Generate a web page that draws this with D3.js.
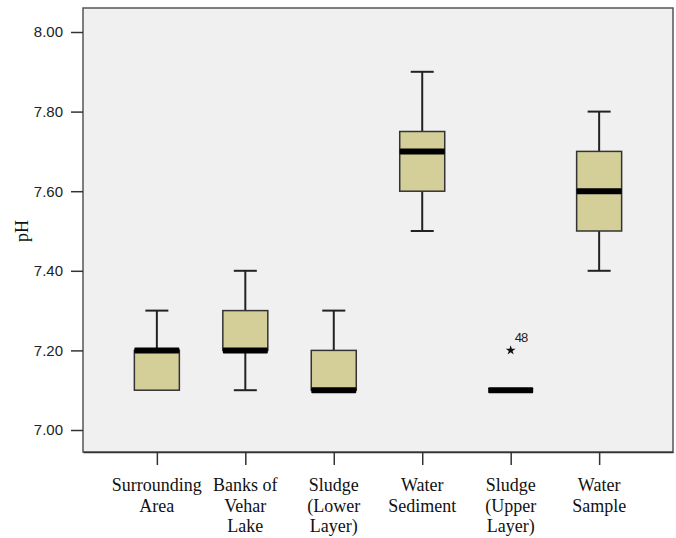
<!DOCTYPE html>
<html>
<head>
<meta charset="utf-8">
<script src="https://cdn.jsdelivr.net/npm/d3@7/dist/d3.min.js"></script>
<style>
  body { margin: 0; background: #fff; }
</style>
</head>
<body>
<div id="boxplot"></div>
<script>
// pH by sampling site
var categories = ["Surrounding Area", "Banks of Vehar Lake", "Sludge (Lower Layer)",
                  "Water Sediment", "Sludge (Upper Layer)", "Water Sample"];
var labelLines = [["Surrounding", "Area"], ["Banks of", "Vehar", "Lake"], ["Sludge", "(Lower", "Layer)"],
                  ["Water", "Sediment"], ["Sludge", "(Upper", "Layer)"], ["Water", "Sample"]];
var whiskerLow  = [7.10, 7.10, 7.10, 7.50, 7.10, 7.40];
var q1          = [7.10, 7.20, 7.10, 7.60, 7.10, 7.50];
var median      = [7.20, 7.20, 7.10, 7.70, 7.10, 7.60];
var q3          = [7.20, 7.30, 7.20, 7.75, 7.10, 7.70];
var whiskerHigh = [7.30, 7.40, 7.30, 7.90, 7.10, 7.80];
var outliers    = [{ cat: "Sludge (Upper Layer)", value: 7.20, id: "48" }];
var yTicks      = [7.00, 7.20, 7.40, 7.60, 7.80, 8.00];

var data = categories.map(function (c, i) {
    return { name: c, lo: whiskerLow[i], q1: q1[i], med: median[i], q3: q3[i], hi: whiskerHigh[i], lines: labelLines[i] };
});

var margin = { top: 8, right: 3, bottom: 86, left: 83 },
    width = 676 - margin.left - margin.right,
    height = 538 - margin.top - margin.bottom;

var svg = d3.select("#boxplot")
    .append("svg")
    .attr("width", 676)
    .attr("height", 538)
    .append("g")
    .attr("transform", "translate(" + margin.left + "," + margin.top + ")");

var x = d3.scalePoint()
    .domain(categories)
    .range([0, width])
    .padding(0.835);

var y = d3.scaleLinear()
    .domain([7.0, 8.0])
    .range([422, 24]);

var boxW = 45, capW = 23;

// plot frame
svg.append("rect")
    .attr("x", 0).attr("y", 0)
    .attr("width", width).attr("height", height)
    .attr("fill", "#f0f0f0")
    .attr("stroke", "#555")
    .attr("stroke-width", 1.5);

// y axis
var yAxis = svg.append("g")
    .call(d3.axisLeft(y).tickValues(yTicks).tickSize(12).tickPadding(8).tickFormat(d3.format(".2f")));
yAxis.select(".domain").remove();
yAxis.selectAll("line").attr("stroke", "#333").attr("stroke-width", 1.5);
yAxis.selectAll("text")
    .attr("font-family", "Liberation Sans, Arial, sans-serif")
    .attr("font-size", 15)
    .attr("fill", "#222");

// x axis
var xAxis = svg.append("g")
    .attr("transform", "translate(0," + height + ")")
    .call(d3.axisBottom(x).tickSizeInner(13).tickSizeOuter(0).tickFormat(""));
xAxis.select(".domain").attr("stroke", "#333").attr("stroke-width", 1.5);
xAxis.selectAll("line").attr("stroke", "#333").attr("stroke-width", 1.5);

var xLab = svg.append("g")
    .selectAll("text")
    .data(data)
    .enter()
    .append("text")
    .attr("text-anchor", "middle")
    .attr("font-family", "Liberation Serif, Times New Roman, serif")
    .attr("font-size", 18)
    .attr("fill", "#111");
xLab.selectAll("tspan")
    .data(function (d) { return d.lines.map(function (l) { return { t: l, x: x(d.name) }; }); })
    .enter()
    .append("tspan")
    .attr("x", function (d) { return d.x; })
    .attr("y", function (d, i) { return height + 39 + i * 20.5; })
    .text(function (d) { return d.t; });

svg.append("text")
    .attr("transform", "translate(" + (-61) + "," + ((y(7) + y(8)) / 2) + ")rotate(-90)")
    .attr("text-anchor", "middle")
    .attr("dy", "0.35em")
    .attr("font-family", "Liberation Serif, Times New Roman, serif")
    .attr("font-size", 18)
    .attr("fill", "#111")
    .text("pH");

// boxes
var g = svg.selectAll(".box")
    .data(data)
    .enter()
    .append("g")
    .attr("class", "box");

// whiskers
g.filter(function (d) { return d.hi > d.q3; })
    .append("line")
    .attr("x1", function (d) { return x(d.name); })
    .attr("x2", function (d) { return x(d.name); })
    .attr("y1", function (d) { return y(d.q3); })
    .attr("y2", function (d) { return y(d.hi); })
    .attr("stroke", "#222").attr("stroke-width", 2);
g.filter(function (d) { return d.hi > d.q3; })
    .append("line")
    .attr("x1", function (d) { return x(d.name) - capW / 2; })
    .attr("x2", function (d) { return x(d.name) + capW / 2; })
    .attr("y1", function (d) { return y(d.hi); })
    .attr("y2", function (d) { return y(d.hi); })
    .attr("stroke", "#222").attr("stroke-width", 2);
g.filter(function (d) { return d.lo < d.q1; })
    .append("line")
    .attr("x1", function (d) { return x(d.name); })
    .attr("x2", function (d) { return x(d.name); })
    .attr("y1", function (d) { return y(d.q1); })
    .attr("y2", function (d) { return y(d.lo); })
    .attr("stroke", "#222").attr("stroke-width", 2);
g.filter(function (d) { return d.lo < d.q1; })
    .append("line")
    .attr("x1", function (d) { return x(d.name) - capW / 2; })
    .attr("x2", function (d) { return x(d.name) + capW / 2; })
    .attr("y1", function (d) { return y(d.lo); })
    .attr("y2", function (d) { return y(d.lo); })
    .attr("stroke", "#222").attr("stroke-width", 2);

g.filter(function (d) { return d.q3 > d.q1; })
    .append("rect")
    .attr("x", function (d) { return x(d.name) - boxW / 2; })
    .attr("y", function (d) { return y(d.q3); })
    .attr("width", boxW)
    .attr("height", function (d) { return y(d.q1) - y(d.q3); })
    .attr("fill", "#d4cf98")
    .attr("stroke", "#333")
    .attr("stroke-width", 1.5);

// median bars
g.append("rect")
    .attr("x", function (d) { return x(d.name) - boxW / 2; })
    .attr("y", function (d) { return y(d.med) - 3; })
    .attr("width", boxW)
    .attr("height", 6)
    .attr("rx", 1)
    .attr("fill", "#000");

// outliers
svg.selectAll(".outlier")
    .data(outliers)
    .enter()
    .append("path")
    .attr("d", d3.symbol().type(d3.symbolStar).size(30))
    .attr("transform", function (d) { return "translate(" + x(d.cat) + "," + y(d.value) + ")"; })
    .attr("fill", "#111");
svg.selectAll(".outlierLab")
    .data(outliers)
    .enter()
    .append("text")
    .attr("x", function (d) { return x(d.cat) + 4; })
    .attr("y", function (d) { return y(d.value) - 8; })
    .attr("font-family", "Liberation Sans, Arial, sans-serif")
    .attr("font-size", 13)
    .attr("letter-spacing", -1)
    .attr("fill", "#222")
    .text(function (d) { return d.id; });
</script>
</body>
</html>
